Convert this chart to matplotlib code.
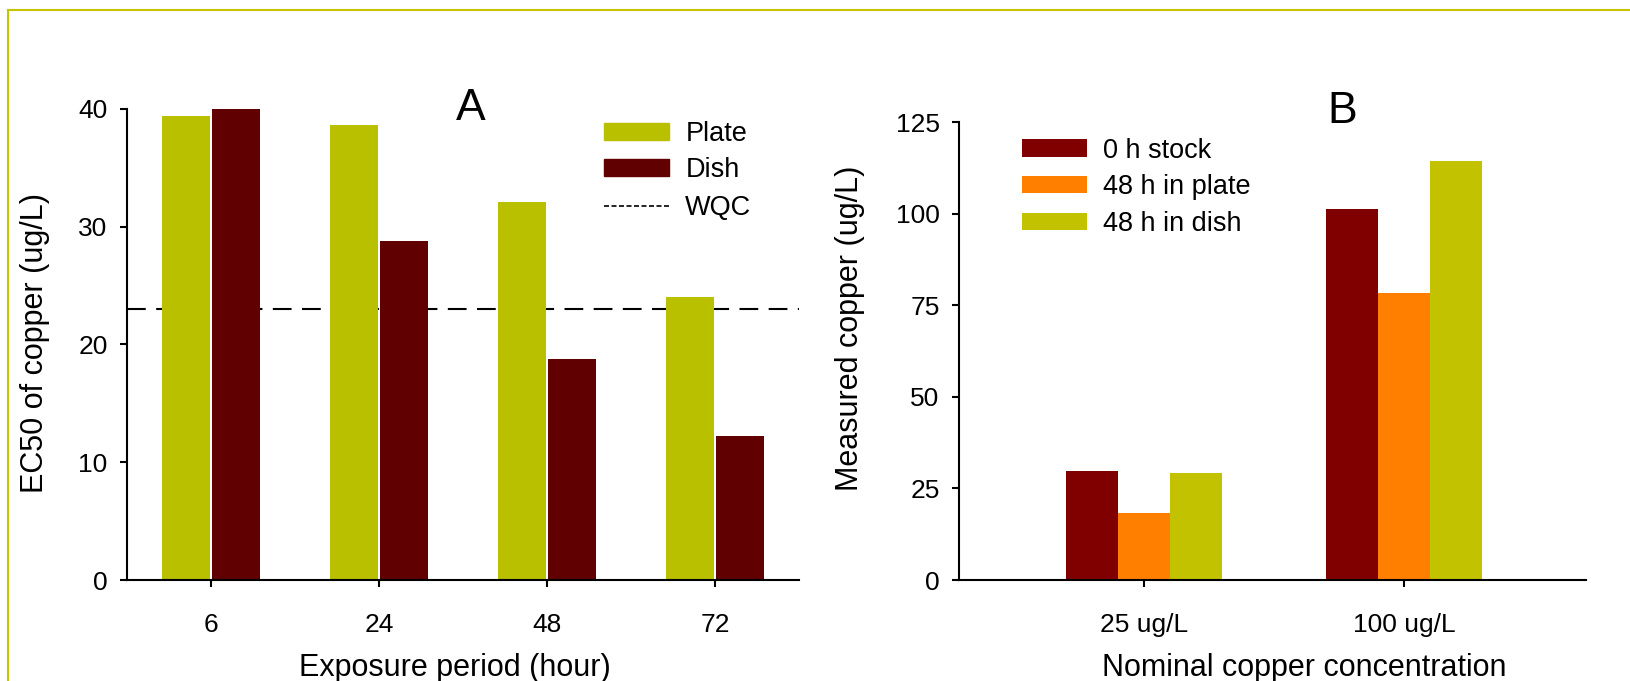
import matplotlib
matplotlib.use("Agg")
import matplotlib.pyplot as plt
import numpy as np
from matplotlib.lines import Line2D
from matplotlib.patches import Patch

plt.rcParams["font.family"] = ["Liberation Sans", "DejaVu Sans"]

# Panel A: EC50 of copper by exposure period
hours = ["6", "24", "48", "72"]
ec50_plate = [39.4, 38.6, 32.1, 24.0]
ec50_dish = [40.1, 28.8, 18.8, 12.2]
wqc = 23.0

# Panel B: measured copper by nominal concentration
nominal = ["25 ug/L", "100 ug/L"]
stock_0h = [29.7, 101.2]
plate_48h = [18.3, 78.3]
dish_48h = [29.2, 114.4]

PLATE_A = "#b8c000"
DISH_A = "#600000"
STOCK_B = "#800000"
PLATE_B = "#ff8000"
DISH_B = "#c2c200"
FRAME = "#c4c400"

TICK_FS = 19
LABEL_FS = 22
LEGEND_FS = 19.5
LETTER_FS = 32

fig = plt.figure(figsize=(16.31, 6.81), dpi=100)

# yellow frame (top and left edges visible)
fig.add_artist(Line2D([8 / 1631, 1.0], [1 - 10 / 681, 1 - 10 / 681],
                      color=FRAME, linewidth=1.5, transform=fig.transFigure))
fig.add_artist(Line2D([8 / 1631, 8 / 1631], [0.0, 1 - 10 / 681],
                      color=FRAME, linewidth=1.5, transform=fig.transFigure))


def style_axes(ax):
    ax.spines["top"].set_visible(False)
    ax.spines["right"].set_visible(False)
    ax.spines["left"].set_linewidth(1.5)
    ax.spines["bottom"].set_linewidth(1.5)
    ax.tick_params(axis="both", direction="out", length=5, width=1.5,
                   labelsize=TICK_FS)
    ax.tick_params(axis="x", pad=19)
    ax.tick_params(axis="y", pad=9)


legend_kw = dict(frameon=False, fontsize=LEGEND_FS, handlelength=2.4,
                 handleheight=0.6, handletextpad=0.6, borderpad=0, borderaxespad=0)

# Panel A
ax1 = fig.add_axes([127 / 1631, 101 / 681, 672 / 1631, 471 / 681])
x = np.arange(len(hours))
ax1.axhline(wqc, color="black", linewidth=1.5, dashes=(9, 5), zorder=1)
ax1.bar(x - 0.15, ec50_plate, width=0.287, color=PLATE_A, zorder=2)
ax1.bar(x + 0.15, ec50_dish, width=0.287, color=DISH_A, zorder=2)
ax1.set_xlim(-0.5, 3.5)
ax1.set_ylim(0, 40)
ax1.set_yticks([0, 10, 20, 30, 40])
ax1.set_xticks(x)
ax1.set_xticklabels(hours)
style_axes(ax1)
ax1.set_xlabel("Exposure period (hour)", fontsize=LABEL_FS)
ax1.set_ylabel("EC50 of copper (ug/L)", fontsize=LABEL_FS)
ax1.xaxis.set_label_coords(0.488, -0.155)
ax1.yaxis.set_label_coords(-0.115, 0.503)
ax1.text(0.512, 1.0, "A", transform=ax1.transAxes, fontsize=LETTER_FS,
         ha="center", va="center")

handles_a = [Patch(color=PLATE_A, label="Plate"),
             Patch(color=DISH_A, label="Dish")]
leg1 = ax1.legend(handles=handles_a, loc="upper left", bbox_to_anchor=(0.71, 0.974),
                  labelspacing=0.37, **legend_kw)
ax1.add_artist(leg1)
wqc_handle = [Line2D([], [], color="black", linewidth=1.2, dashes=(3, 1.5), label="WQC")]
ax1.legend(handles=wqc_handle, loc="center left", bbox_to_anchor=(0.71, 0.79),
           **legend_kw)

# Panel B
ax2 = fig.add_axes([959 / 1631, 101 / 681, 627 / 1631, 458 / 681])
xb = np.arange(len(nominal))
ax2.bar(xb - 0.2, stock_0h, width=0.2, color=STOCK_B, label="0 h stock")
ax2.bar(xb, plate_48h, width=0.2, color=PLATE_B, label="48 h in plate")
ax2.bar(xb + 0.2, dish_48h, width=0.2, color=DISH_B, label="48 h in dish")
ax2.set_xlim(-0.71, 1.70)
ax2.set_ylim(0, 125)
ax2.set_yticks([0, 25, 50, 75, 100, 125])
ax2.set_xticks(xb)
ax2.set_xticklabels(nominal)
style_axes(ax2)
ax2.set_xlabel("Nominal copper concentration", fontsize=LABEL_FS)
ax2.set_ylabel("Measured copper (ug/L)", fontsize=LABEL_FS)
ax2.xaxis.set_label_coords(0.55, -0.16)
ax2.yaxis.set_label_coords(-0.150, 0.55)
ax2.text(0.612, 1.022, "B", transform=ax2.transAxes, fontsize=LETTER_FS,
         ha="center", va="center")
ax2.legend(loc="upper left", bbox_to_anchor=(0.10, 0.966), labelspacing=0.4,
           **legend_kw)

fig.savefig("out.png", dpi=100)
